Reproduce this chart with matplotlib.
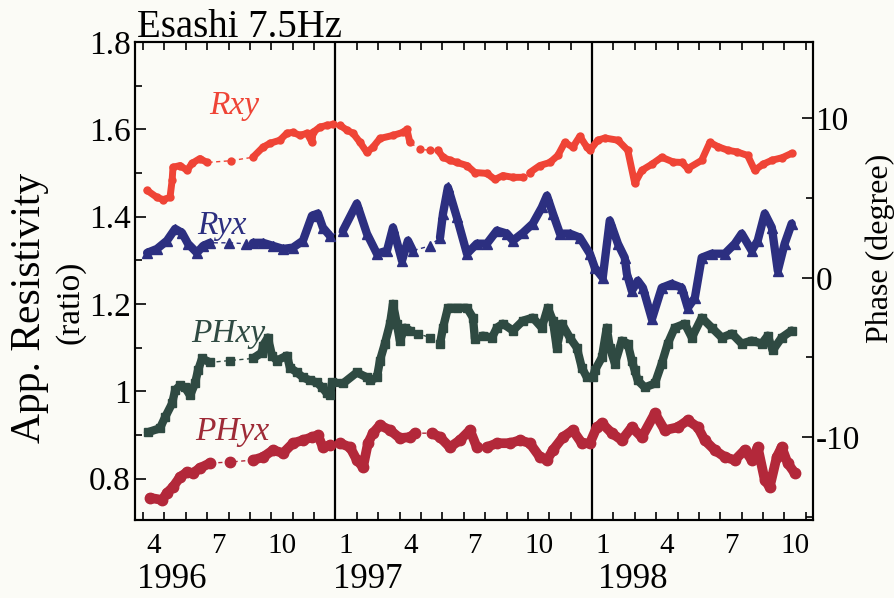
import numpy as np
import matplotlib
matplotlib.use('Agg')
import matplotlib.pyplot as plt
from matplotlib.ticker import FixedLocator, MultipleLocator, FuncFormatter

plt.rcParams['font.family'] = ['Liberation Serif', 'DejaVu Serif']
plt.rcParams['axes.unicode_minus'] = False

# time is in months counted from 1 Jan 1996 (t=12 -> 1 Jan 1997)
rxy_t = [3.19, 3.65, 3.94, 4.26, 4.36, 4.40, 4.73, 5.06, 5.29, 5.66, 5.99, 7.10, 8.14,
         8.61, 8.94, 9.40, 9.73, 10.01, 10.34, 10.67, 10.90, 10.95, 11.27, 11.60, 11.88,
         12.21, 12.54, 12.82, 13.15, 13.47, 13.75, 14.08, 14.69, 15.16, 15.34, 15.48,
         15.95, 16.42, 16.79, 17.03, 17.35, 17.68, 18.15, 18.52, 19.08, 19.46, 19.83,
         20.30, 20.77, 21.09, 21.56, 22.03, 22.40, 22.73, 23.10, 23.43, 23.76, 23.90,
         24.27, 24.60, 25.21, 25.67, 26.00, 26.33, 26.80, 27.26, 27.80, 28.20, 28.48,
         29.13, 29.51, 29.90, 30.35, 30.80, 31.28, 31.61, 32.00, 32.41, 32.90, 33.34]
rxy_v = [1.460, 1.444, 1.439, 1.444, 1.483, 1.513, 1.517, 1.506, 1.522, 1.533, 1.524, 1.528, 1.536,
         1.559, 1.568, 1.575, 1.591, 1.593, 1.586, 1.591, 1.570, 1.593, 1.605, 1.609, 1.611,
         1.609, 1.598, 1.591, 1.570, 1.547, 1.559, 1.579, 1.586, 1.593, 1.600, 1.570,
         1.554, 1.552, 1.552, 1.536, 1.529, 1.524, 1.517, 1.501, 1.499, 1.485, 1.494,
         1.490, 1.490, 1.501, 1.517, 1.524, 1.540, 1.570, 1.559, 1.584, 1.559, 1.552,
         1.575, 1.580, 1.575, 1.552, 1.476, 1.506, 1.520, 1.536, 1.525, 1.524, 1.510,
         1.529, 1.570, 1.560, 1.552, 1.548, 1.540, 1.506, 1.520, 1.529, 1.535, 1.545]
rxy_gaps = [(5.99, 8.14), (11.88, 12.21), (15.48, 16.79), (20.77, 21.09)]

ryx_t = [3.19, 3.65, 4.12, 4.50, 4.82, 5.10, 5.52, 5.81, 6.13, 7.00, 7.80, 8.14, 8.61,
         9.08, 9.55, 10.01, 10.48, 10.90, 11.18, 11.41, 11.74, 12.35, 13.00, 13.47, 13.94,
         14.41, 14.69, 15.11, 15.39, 15.62, 16.42, 16.89, 17.03, 17.26, 17.68, 18.15,
         18.61, 19.08, 19.55, 20.02, 20.30, 20.77, 21.23, 21.65, 21.89, 22.17, 22.50,
         22.96, 23.43, 23.90, 24.13, 24.50, 24.83, 25.21, 25.53, 25.63, 25.86, 26.14,
         26.38, 26.80, 27.26, 27.73, 28.20, 28.48, 28.81, 29.13, 29.60, 30.21, 30.68,
         31.00, 31.47, 31.75, 32.08, 32.41, 32.69, 33.01, 33.34]
ryx_v = [1.317, 1.326, 1.345, 1.372, 1.363, 1.338, 1.317, 1.333, 1.340, 1.340, 1.338, 1.340, 1.340,
         1.333, 1.326, 1.329, 1.345, 1.402, 1.407, 1.375, 1.356, 1.368, 1.430, 1.361, 1.315,
         1.322, 1.375, 1.299, 1.345, 1.322, 1.333, 1.352, 1.407, 1.467, 1.398, 1.315,
         1.338, 1.338, 1.368, 1.361, 1.345, 1.363, 1.384, 1.421, 1.448, 1.407, 1.361,
         1.361, 1.352, 1.315, 1.283, 1.260, 1.391, 1.338, 1.306, 1.269, 1.230, 1.253,
         1.237, 1.165, 1.237, 1.246, 1.237, 1.191, 1.214, 1.306, 1.315, 1.315, 1.338,
         1.361, 1.322, 1.345, 1.407, 1.375, 1.276, 1.338, 1.384]
ryx_gaps = [(6.13, 8.14), (11.74, 12.35), (15.62, 16.89)]

phxy_t = [3.23, 3.79, 4.03, 4.36, 4.50, 4.73, 4.96, 5.20, 5.43, 5.57, 5.76, 6.13, 7.07, 8.14,
          8.56, 8.61, 8.84, 9.03, 9.26, 9.73, 9.87, 10.20, 10.48, 10.81, 11.13, 11.37, 11.60,
          11.74, 11.84, 12.35, 13.00, 13.47, 13.61, 13.94, 14.08, 14.31, 14.55, 14.69, 14.87,
          15.01, 15.25, 15.48, 15.86, 16.42, 16.89, 17.03, 17.26, 17.68, 18.15, 18.43, 18.52,
          18.89, 19.32, 19.55, 19.83, 20.30, 20.77, 21.23, 21.65, 21.93, 22.17, 22.35, 22.59,
          22.96, 23.29, 23.52, 23.76, 24.04, 24.13, 24.46, 24.69, 24.83, 25.07, 25.39, 25.67,
          25.86, 26.00, 26.14, 26.47, 26.94, 27.26, 27.54, 27.87, 28.34, 28.67, 29.13, 29.60,
          30.07, 30.54, 31.00, 31.47, 31.94, 32.22, 32.45, 32.87, 33.34]
phxy_v = [-9.69, -9.44, -8.75, -7.88, -7.06, -6.75, -6.88, -7.38, -6.63, -5.81, -5.06, -5.31, -5.19, -5.06,
          -4.69, -4.25, -3.75, -4.88, -5.19, -4.88, -5.63, -5.94, -6.25, -6.44, -6.56, -6.88, -7.25,
          -7.38, -6.56, -6.63, -5.94, -6.25, -6.44, -6.25, -5.19, -4.13, -2.88, -1.63, -2.88,
          -3.94, -3.13, -3.31, -3.50, -3.75, -4.13, -3.13, -1.88, -1.88, -1.88, -2.50, -3.81,
          -3.63, -3.75, -3.13, -2.88, -3.31, -2.69, -2.50, -3.13, -1.88, -2.69, -4.38, -2.88,
          -3.75, -4.38, -5.63, -6.25, -6.25, -5.81, -5.00, -3.13, -4.38, -5.38, -3.94, -4.13,
          -5.19, -5.81, -6.44, -6.88, -6.63, -5.38, -4.13, -3.13, -2.88, -3.75, -2.50, -3.13,
          -3.75, -3.50, -4.13, -3.94, -4.13, -3.63, -4.56, -3.75, -3.31]
phxy_gaps = [(6.13, 8.14), (15.48, 16.89), (18.52, 18.89)]

phyx_t = [3.33, 3.89, 4.12, 4.40, 4.73, 5.06, 5.34, 5.66, 6.13, 7.07, 8.14, 8.61, 9.08, 9.55,
          10.01, 10.48, 10.90, 11.18, 11.41, 11.74, 12.21, 12.68, 13.00, 13.29, 13.52, 13.75,
          14.08, 14.55, 15.01, 15.48, 15.72, 16.51, 16.89, 17.35, 17.82, 18.29, 18.61, 19.08,
          19.55, 20.16, 20.63, 21.09, 21.56, 21.89, 22.17, 22.64, 23.10, 23.52, 23.90, 24.22,
          24.46, 24.93, 25.39, 25.86, 26.33, 26.94, 27.40, 28.01, 28.48, 28.95, 29.27, 29.74,
          30.21, 30.68, 31.14, 31.47, 31.75, 32.08, 32.31, 32.64, 32.87, 33.15, 33.48]
phyx_v = [-13.81, -13.94, -13.50, -13.13, -12.50, -12.19, -12.25, -11.94, -11.63, -11.56, -11.44, -11.25, -10.81, -11.00,
          -10.38, -10.19, -10.00, -9.88, -10.63, -10.50, -10.38, -10.63, -11.44, -11.88, -10.38, -9.75,
          -9.25, -9.56, -10.06, -10.00, -9.75, -9.75, -10.00, -10.63, -10.19, -9.56, -10.63, -10.63,
          -10.38, -10.38, -10.19, -10.38, -11.25, -11.44, -10.81, -10.00, -9.56, -10.38, -10.38, -9.38,
          -9.13, -9.75, -10.19, -9.38, -10.00, -8.50, -9.56, -9.38, -8.94, -9.38, -10.19, -10.81,
          -11.25, -11.44, -10.81, -11.44, -10.63, -12.69, -13.13, -11.25, -10.63, -11.63, -12.25]
phyx_gaps = [(6.13, 8.14), (11.74, 12.21), (15.72, 16.51), (18.61, 19.08)]

month_pos = [3.5, 6.5, 9.5, 12.5, 15.5, 18.5, 21.5, 24.5, 27.5, 30.5, 33.5]
month_lab = ['4', '7', '10', '1', '4', '7', '10', '1', '4', '7', '10']
year_pos = [2.72, 11.88, 24.3]
year_lab = ['1996', '1997', '1998']
year_lines = [12, 24]


def draw(ax, t, v, gaps, color, marker, ms, lw):
    t = np.asarray(t, float)
    v = np.asarray(v, float)
    # thin dashed line through everything (shows in the data gaps)
    ax.plot(t, v, color=color, lw=1.0, ls=(0, (3, 2.5)), zorder=2)
    # thick solid band only where data is continuous
    vs = v.copy()
    extra_t = []
    for a, b in gaps:
        vs[(t > a) & (t < b)] = np.nan
        extra_t += [a + 1e-3, b - 1e-3]
    tt = np.concatenate([t, extra_t])
    vv = np.concatenate([vs, np.full(len(extra_t), np.nan)])
    o = np.argsort(tt)
    ax.plot(tt[o], vv[o], color=color, lw=lw, solid_capstyle='round',
            solid_joinstyle='round', zorder=3)
    ax.plot(t, v, ls='none', marker=marker, ms=ms, color=color, mec=color, zorder=4)


fig = plt.figure(figsize=(8.95, 5.98), dpi=100, facecolor='#fbfbf6')
ax = fig.add_axes([0.151, 0.1304, 0.757, 0.7994])
ax.set_facecolor('#fbfbf6')
ax2 = ax.twinx()

ax.set_xlim(2.63, 34.32)
ax.set_ylim(0.705, 1.80)
ax2.set_ylim(-15.2, 14.8)

draw(ax, rxy_t, rxy_v, rxy_gaps, '#ef4436', 'o', 5.0, 5.0)
draw(ax, ryx_t, ryx_v, ryx_gaps, '#2c2f80', '^', 7.0, 6.0)
draw(ax2, phxy_t, phxy_v, phxy_gaps, '#2f4a42', 's', 6.0, 6.0)
draw(ax2, phyx_t, phyx_v, phyx_gaps, '#b3283a', 'o', 7.5, 7.0)

for xl in year_lines:
    ax.axvline(xl, color='black', lw=1.6, zorder=1)

# labels of the curves
ax.text(7.25, 1.653, 'Rxy', color='#ef4436', style='italic', fontsize=24, ha='center', va='center')
ax.text(6.69, 1.379, 'Ryx', color='#2c2f80', style='italic', fontsize=24, ha='center', va='center')
ax2.text(6.97, -3.5, 'PHxy', color='#2f4a42', style='italic', fontsize=24, ha='center', va='center')
ax2.text(7.16, -9.69, 'PHyx', color='#9e2a36', style='italic', fontsize=24, ha='center', va='center')

# x axis: month ticks, labels in mid month
ax.xaxis.set_minor_locator(MultipleLocator(1))
ax.xaxis.set_major_locator(FixedLocator(month_pos))
ax.set_xticklabels(month_lab)
ax.tick_params(axis='x', which='major', length=0, pad=9, labelsize=21)
ax.tick_params(axis='x', which='minor', direction='in', length=6, width=1.2, top=True, bottom=True)
for xp, lab in zip(year_pos, year_lab):
    ax.text(xp, -0.142, lab, transform=ax.get_xaxis_transform(), fontsize=25,
            ha='left', va='baseline')

# left axis
ax.yaxis.set_major_locator(MultipleLocator(0.2))
ax.yaxis.set_minor_locator(MultipleLocator(0.1))
ax.yaxis.set_major_formatter(FuncFormatter(lambda y, p: '%g' % round(y, 2)))
ax.tick_params(axis='y', which='major', direction='in', length=8, width=1.2, pad=3, labelsize=24,
               right=False)
ax.tick_params(axis='y', which='minor', direction='in', length=5, width=1.2, right=False)

# right axis
ax2.yaxis.set_major_locator(MultipleLocator(10))
ax2.yaxis.set_minor_locator(MultipleLocator(5))
ax2.yaxis.set_major_formatter(FuncFormatter(lambda y, p: '%d' % y))
ax2.tick_params(axis='y', which='major', direction='in', length=8, width=1.2, pad=2, labelsize=24)
ax2.tick_params(axis='y', which='minor', direction='in', length=5, width=1.2)

for a in (ax, ax2):
    for s in a.spines.values():
        s.set_linewidth(1.5)

fig.text(137 / 895, 1 - 37 / 598, 'Esashi 7.5Hz', fontsize=28, ha='left', va='baseline')
fig.text(30 / 895, 1 - 308 / 598, 'App. Resistivity', fontsize=30, rotation=90,
         ha='center', va='center')
fig.text(70 / 895, 1 - 302 / 598, '(ratio)', fontsize=24, rotation=90, ha='center', va='center')
fig.text(880 / 895, 1 - 248 / 598, 'Phase (degree)', fontsize=23, rotation=90,
         ha='center', va='center')

fig.savefig('out.png', dpi=100, facecolor=fig.get_facecolor())
